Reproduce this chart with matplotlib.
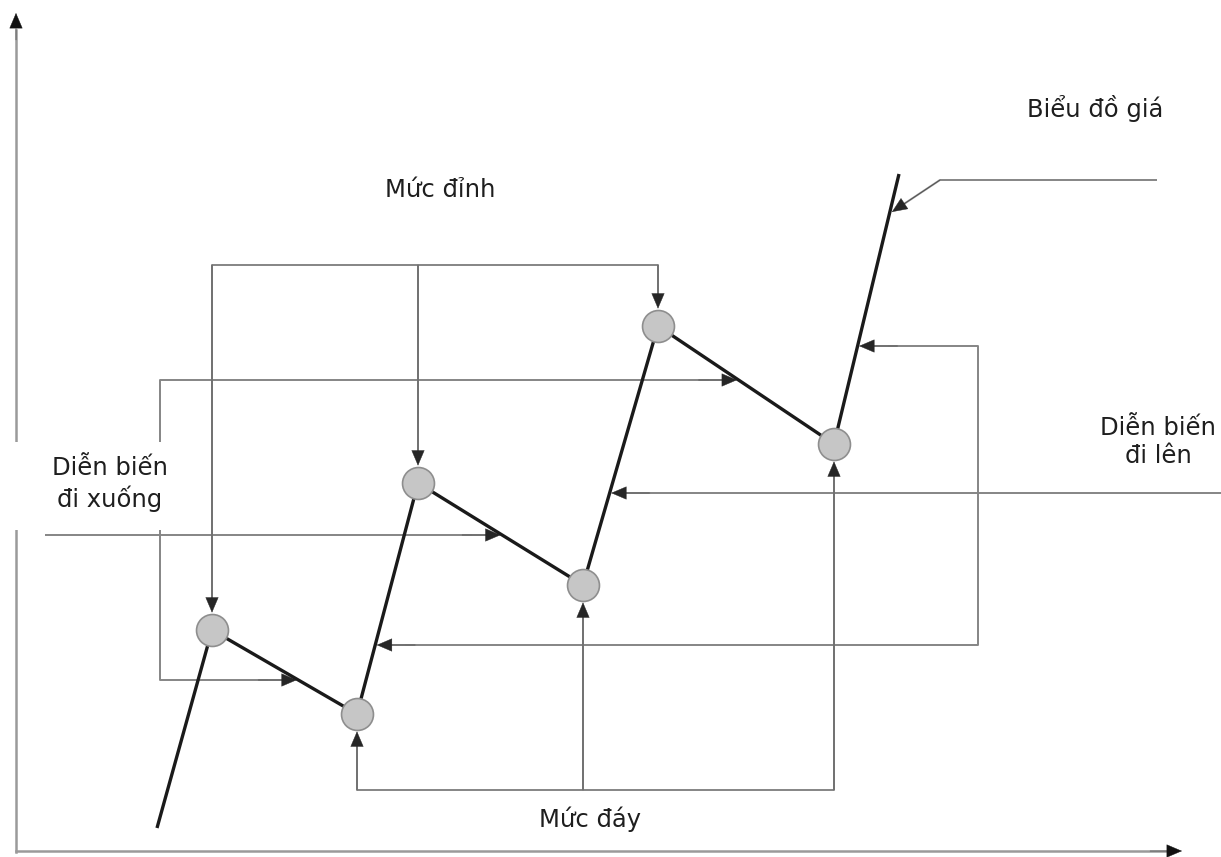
import numpy as np
import matplotlib
matplotlib.use("Agg")
import matplotlib.pyplot as plt
from matplotlib.patches import Rectangle

# ---- data: zig-zag uptrend price path (x = time position, y = price level) ----
path_x = [157, 212, 357, 418, 583, 658, 834, 899]
path_y = [29, 227, 143, 374, 272, 531, 413, 683]
peak_idx = [1, 3, 5]      # "Mức đỉnh"
trough_idx = [2, 4, 6]    # "Mức đáy"

labels = {
    "peaks": "Mức đỉnh",
    "troughs": "Mức đáy",
    "down": "Diễn biến\nđi xuống",
    "up": "Diễn biến\nđi lên",
    "chart": "Biểu đồ giá",
}

W, H = 1221, 857
fig = plt.figure(figsize=(W / 100, H / 100), dpi=100)
ax = fig.add_axes([0, 0, 1, 1])
ax.set_xlim(0, W)
ax.set_ylim(0, H)
ax.axis("off")

plt.rcParams['font.family'] = ['DejaVu Sans']
FS = 17.5
TXT = "#1e1e1e"
GRAY = "#858585"
LW_G = 1.4
AX_C = "#9a9a9a"
HEAD_C = "#262626"

def Y(p):  # pixel row -> axis y
    return H - p

def gline(xs, ys):
    ax.plot(xs, ys, color=GRAY, lw=LW_G, solid_capstyle="butt", zorder=2)

def garrow(x0, y0, x1, y1, shrinkB=0):
    # gray shaft
    ax.annotate("", xy=(x1, y1), xytext=(x0, y0),
                arrowprops=dict(arrowstyle="-", color=GRAY, lw=LW_G,
                                shrinkA=0, shrinkB=shrinkB + 4),
                zorder=3)
    # dark head
    ax.annotate("", xy=(x1, y1), xytext=(x0, y0),
                arrowprops=dict(arrowstyle="-|>,head_length=0.75,head_width=0.32",
                                facecolor=HEAD_C, edgecolor=HEAD_C, lw=0.3,
                                shrinkA=0, shrinkB=shrinkB, mutation_scale=14),
                zorder=3)

def x_on_segment(i, yv):
    x0, y0, x1, y1 = path_x[i], path_y[i], path_x[i + 1], path_y[i + 1]
    return x0 + (yv - y0) * (x1 - x0) / (y1 - y0)

# ---- axes arrows ----
ax.plot([16, 16], [Y(852), Y(530)], color=AX_C, lw=1.8, zorder=1)
ax.plot([16, 16], [Y(442), Y(30)], color=AX_C, lw=1.8, zorder=1)
ax.annotate("", xy=(16, Y(13)), xytext=(16, Y(40)),
            arrowprops=dict(arrowstyle="-|>,head_length=0.75,head_width=0.32",
                            facecolor="#111111", edgecolor="#111111", lw=0.3,
                            mutation_scale=14, shrinkA=0, shrinkB=0))
ax.plot([16, 1168], [Y(851), Y(851)], color=AX_C, lw=1.8, zorder=1)
ax.annotate("", xy=(1182, Y(851)), xytext=(1150, Y(851)),
            arrowprops=dict(arrowstyle="-|>,head_length=0.75,head_width=0.32",
                            facecolor="#111111", edgecolor="#111111", lw=0.3,
                            mutation_scale=14, shrinkA=0, shrinkB=0))

R_PT = 11.5  # circle radius in points

# ---- peak bracket ----
top_lvl = Y(265)
gline([path_x[peak_idx[0]], path_x[peak_idx[-1]]], [top_lvl, top_lvl])
for i in peak_idx:
    garrow(path_x[i], top_lvl, path_x[i], path_y[i], shrinkB=R_PT + 1)

# ---- trough bracket ----
bot_lvl = Y(790)
gline([path_x[trough_idx[0]], path_x[trough_idx[-1]]], [bot_lvl, bot_lvl])
for i in trough_idx:
    garrow(path_x[i], bot_lvl, path_x[i], path_y[i], shrinkB=R_PT + 1)

# ---- down-move arrows ----
lvl_a = Y(380)   # onto segment 5 (P3 -> T3)
lvl_b = Y(680)   # onto segment 1 (P1 -> T1)
lvl_c = Y(535)   # onto segment 3 (P2 -> T2)
xa = x_on_segment(5, lvl_a)
xb = x_on_segment(1, lvl_b)
xc = x_on_segment(3, lvl_c)
gline([xa - 30, 160, 160, xb - 30], [lvl_a, lvl_a, lvl_b, lvl_b])
garrow(xa - 40, lvl_a, xa - 1.5, lvl_a)
garrow(xb - 40, lvl_b, xb - 1.5, lvl_b)
gline([45, xc - 30], [lvl_c, lvl_c])
garrow(xc - 40, lvl_c, xc - 1.5, lvl_c)

# ---- up-move arrows ----
lvl_d = Y(346)   # onto segment 6 (T3 -> end)
lvl_e = Y(645)   # onto segment 2 (T1 -> P2)
lvl_f = Y(493)   # onto segment 4 (T2 -> P3)
xd = x_on_segment(6, lvl_d)
xe = x_on_segment(2, lvl_e)
xf = x_on_segment(4, lvl_f)
gline([xd + 30, 978, 978, xe + 30], [lvl_d, lvl_d, lvl_e, lvl_e])
garrow(xd + 40, lvl_d, xd + 1.5, lvl_d)
garrow(xe + 40, lvl_e, xe + 1.5, lvl_e)
gline([W, xf + 30], [lvl_f, lvl_f])
garrow(xf + 40, lvl_f, xf + 1.5, lvl_f)

# ---- price chart leader ----
lvl_g = Y(180)
xg = x_on_segment(6, Y(212))
gline([1157, 940], [lvl_g, lvl_g])
garrow(940, lvl_g, xg + 2, Y(212))

# ---- price path ----
ax.plot(path_x, path_y, color="#1a1a1a", lw=2.4, solid_capstyle="butt", zorder=4)
ax.scatter([path_x[i] for i in peak_idx + trough_idx],
           [path_y[i] for i in peak_idx + trough_idx],
           s=(2 * R_PT) ** 2, facecolor="#c6c6c6", edgecolor="#8e8e8e",
           linewidth=1.2, zorder=5)

# ---- white gap behind left label ----
ax.add_patch(Rectangle((8, Y(530)), 166, 88, facecolor="white", edgecolor="none", zorder=2.5))

# ---- text ----
ax.text(440, Y(190), labels["peaks"], fontsize=FS, color=TXT, ha="center", va="center")
ax.text(590, Y(819), labels["troughs"], fontsize=FS, color=TXT, ha="center", va="center")
ax.text(110, Y(484), labels["down"], fontsize=FS, color=TXT, ha="center", va="center",
        linespacing=1.25, zorder=6)
ax.text(1158, Y(442), labels["up"], fontsize=FS, color=TXT, ha="center", va="center",
        linespacing=1.25)
ax.text(1095, Y(108), labels["chart"], fontsize=FS, color=TXT, ha="center", va="center")

fig.savefig("out.png", dpi=100, facecolor="white")
